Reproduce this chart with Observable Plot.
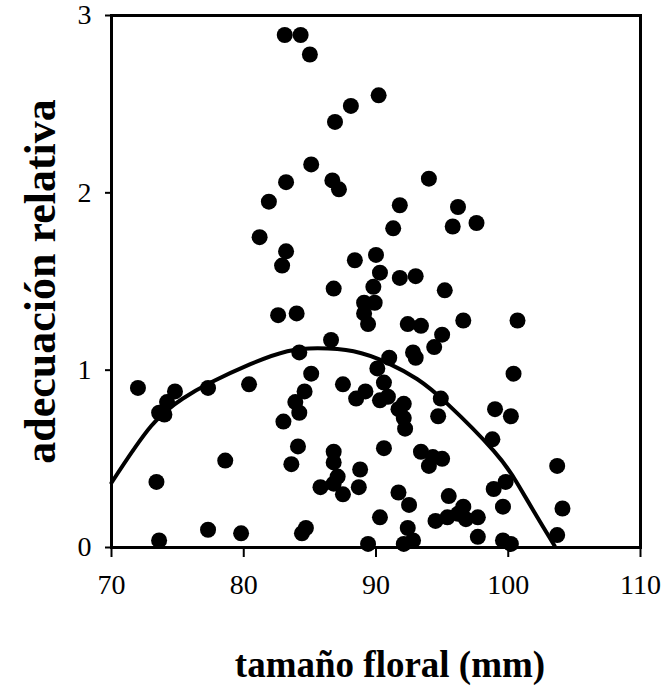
<!DOCTYPE html>
<html>
<head>
<meta charset="utf-8">
<script src="https://cdn.jsdelivr.net/npm/d3@7"></script>
<script src="https://cdn.jsdelivr.net/npm/@observablehq/plot@0.6"></script>
<style>
  html, body { margin: 0; padding: 0; background: white; }
</style>
</head>
<body>
<div id="chart"></div>
<script>
// Observed points: floral size (mm) and relative fitness
const tamano = [
  83.1, 84.3, 85.0, 90.2, 88.1, 86.9, 85.1, 83.2, 86.7, 87.2,
  81.9, 81.2, 83.2, 82.9, 88.4, 90.0, 90.3, 89.8, 86.8, 94.0,
  91.8, 91.3, 96.2, 95.8, 97.6, 91.8, 93.0, 95.2, 89.1, 89.9,
  89.1, 89.4, 82.6, 84.0, 92.4, 93.4, 96.6, 100.7, 95.0, 94.4,
  92.8, 93.0, 86.6, 84.2, 91.0, 100.4, 85.1, 72.0, 74.8, 77.3,
  80.4, 87.5, 84.6, 83.9, 84.2, 74.2, 73.6, 74.0, 83.0, 90.1,
  90.6, 90.9, 88.5, 89.2, 90.3, 91.7, 92.1, 90.6, 84.1, 83.6,
  86.8, 86.8, 87.1, 88.8, 85.8, 86.8, 87.5, 88.7, 78.6, 73.4,
  91.7, 90.3, 77.3, 79.8, 84.4, 84.7, 73.6, 89.4, 92.1, 92.2,
  94.9, 94.7, 99.0, 100.2, 98.8, 93.4, 94.3, 95.0, 94.0, 103.7,
  92.5, 95.5, 98.9, 99.8, 99.6, 104.1, 94.5, 95.4, 96.2, 96.6,
  96.8, 97.7, 97.7, 92.4, 92.8, 92.1, 99.6, 100.2, 103.7
];
const adecuacion = [
  2.89, 2.89, 2.78, 2.55, 2.49, 2.40, 2.16, 2.06, 2.07, 2.02,
  1.95, 1.75, 1.67, 1.59, 1.62, 1.65, 1.55, 1.47, 1.46, 2.08,
  1.93, 1.80, 1.92, 1.81, 1.83, 1.52, 1.53, 1.45, 1.38, 1.38,
  1.32, 1.26, 1.31, 1.32, 1.26, 1.25, 1.28, 1.28, 1.20, 1.13,
  1.10, 1.07, 1.17, 1.10, 1.07, 0.98, 0.98, 0.90, 0.88, 0.90,
  0.92, 0.92, 0.88, 0.82, 0.76, 0.82, 0.76, 0.75, 0.71, 1.01,
  0.93, 0.85, 0.84, 0.88, 0.83, 0.78, 0.73, 0.56, 0.57, 0.47,
  0.54, 0.48, 0.40, 0.44, 0.34, 0.36, 0.30, 0.34, 0.49, 0.37,
  0.31, 0.17, 0.10, 0.08, 0.08, 0.11, 0.04, 0.02, 0.81, 0.67,
  0.84, 0.74, 0.78, 0.74, 0.61, 0.54, 0.51, 0.50, 0.46, 0.46,
  0.24, 0.29, 0.33, 0.37, 0.23, 0.22, 0.15, 0.17, 0.19, 0.23,
  0.16, 0.17, 0.06, 0.11, 0.04, 0.02, 0.04, 0.02, 0.07
];
// Fitted curve as drawn
const curvaX = [70, 73.0, 75.4, 77.5, 80.5, 83.3, 85.6, 88.3, 90.9, 93.1, 95.4, 98.9, 100.7, 102.2, 103.5];
const curvaY = [0.365, 0.685, 0.84, 0.93, 1.034, 1.107, 1.124, 1.107, 1.04, 0.95, 0.81, 0.545, 0.36, 0.17, 0.01];
const xTicks = [70, 80, 90, 100, 110];
const yTicks = [0, 1, 2, 3];
const xTitle = "tamaño floral (mm)";
const yTitle = "adecuación relativa";

const points = tamano.map((x, i) => ({x, y: adecuacion[i]}));
const curve = curvaX.map((x, i) => ({x, y: curvaY[i]}));

const chart = Plot.plot({
  width: 668,
  height: 693,
  marginLeft: 111,
  marginRight: 28,
  marginTop: 15,
  marginBottom: 146,
  style: {fontFamily: "'Liberation Serif', 'Times New Roman', serif", background: "white", color: "black"},
  x: {domain: [70, 110]},
  y: {domain: [0, 3]},
  marks: [
    Plot.axisX({ticks: xTicks, tickFormat: d => String(d), tickSize: 10, tickPadding: 17, fontSize: 28, label: null, strokeWidth: 2}),
    Plot.axisY({ticks: yTicks, tickFormat: d => String(d), tickSize: 6, tickPadding: 14, fontSize: 28, label: null, strokeWidth: 2}),
    Plot.dot(points, {x: "x", y: "y", r: 8, fill: "black", stroke: "none"}),
    Plot.line(curve, {x: "x", y: "y", stroke: "black", strokeWidth: 4, curve: "natural"}),
    Plot.frame({stroke: "black", strokeWidth: 3}),
    Plot.text([xTitle], {frameAnchor: "bottom", dx: 14, dy: 129, text: d => d, fontSize: 37, fontWeight: "bold", textAnchor: "middle"}),
    Plot.text([yTitle], {frameAnchor: "left", dx: -71, rotate: -90, text: d => d, fontSize: 44, fontWeight: "bold", textAnchor: "middle"})
  ]
});
document.getElementById("chart").appendChild(chart);
</script>
</body>
</html>
